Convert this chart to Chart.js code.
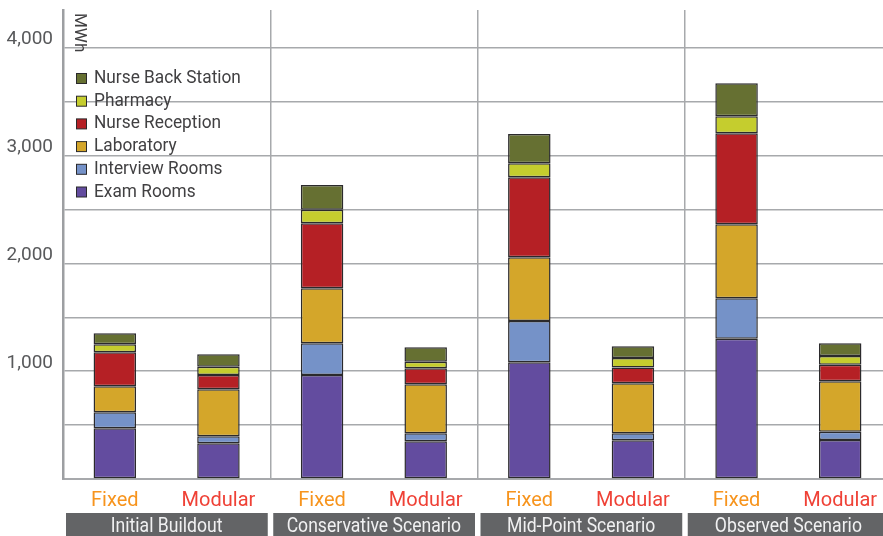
<!DOCTYPE html>
<html>
<head>
<meta charset="utf-8">
<script src="https://cdn.jsdelivr.net/npm/chart.js@4.4.1/dist/chart.umd.min.js"></script>
<style>
  html, body { margin: 0; padding: 0; background: #ffffff; }
  #wrap { width: 883px; height: 536px; overflow: hidden; position: relative; }
  canvas { display: block; }
</style>
</head>
<body>
<div id="wrap"><canvas id="c" width="892" height="536"></canvas></div>
<script>
// ---- data ----
const categories = ['Fixed', 'Modular', 'Fixed', 'Modular', 'Fixed', 'Modular', 'Fixed', 'Modular'];
const groups = ['Initial Buildout', 'Conservative Scenario', 'Mid-Point Scenario', 'Observed Scenario'];
const seriesNames = ['Exam Rooms', 'Interview Rooms', 'Laboratory', 'Nurse Reception', 'Pharmacy', 'Nurse Back Station'];
const examRooms        = [470, 331, 965, 350, 1083, 359, 1301, 362];
const interviewRooms   = [149,  65, 294,  74,  383,  65,  375,  77];
const laboratory       = [241, 436, 510, 454,  591, 464,  687, 467];
const nurseReception   = [315, 133, 603, 149,  742, 147,  844, 154];
const pharmacy         = [ 75,  77, 126,  61,  130,  87,  158,  81];
const nurseBackStation = [102, 115, 229, 134,  271, 109,  306, 118];
const yTicks = [0, 500, 1000, 1500, 2000, 2500, 3000, 3500, 4000];
const yTickLabels = ['', '', '1,000', '', '2,000', '', '3,000', '', '4,000'];
const yMax = 4350;
const unitLabel = 'MWh';

// ---- styles ----
const FONT = "Roboto, 'DejaVu Sans', sans-serif";
const seriesColors = ['#634c9f', '#7592c8', '#d4a62a', '#b52025', '#c5cd2e', '#667032'];
const seriesValues = [examRooms, interviewRooms, laboratory, nurseReception, pharmacy, nurseBackStation];

const datasets = seriesNames.map((name, i) => ({
  label: name,
  data: seriesValues[i],
  backgroundColor: seriesColors[i],
  borderColor: '#2b2a2c',
  borderWidth: 1.5,
  borderSkipped: false,
  barPercentage: 0.41,
  categoryPercentage: 1.0
}));

function squeezedText(ctx, text, x, y, sx) {
  ctx.save();
  ctx.translate(x, y);
  ctx.scale(sx, 1);
  ctx.fillText(text, 0, 0);
  ctx.restore();
}

const overlayPlugin = {
  id: 'overlay',
  afterDraw(chart) {
    const ctx = chart.ctx;
    const x = chart.scales.x;
    const area = chart.chartArea;
    const catW = (area.right - area.left) / categories.length;

    // group label boxes
    ctx.save();
    groups.forEach((g, gi) => {
      const left = x.getPixelForValue(gi * 2) - catW / 2;
      const right = left + 2 * catW;
      ctx.fillStyle = '#636466';
      ctx.fillRect(left + 3, 513, (right - 2.5) - (left + 3), 30);
      ctx.fillStyle = '#f1f1f2';
      ctx.font = '20px ' + FONT;
      ctx.textAlign = 'center';
      ctx.textBaseline = 'alphabetic';
      squeezedText(ctx, g, (left + right) / 2, 532, 0.88);
    });
    ctx.restore();

    // legend (reversed order)
    ctx.save();
    ctx.font = '18px ' + FONT;
    ctx.textBaseline = 'middle';
    ctx.textAlign = 'left';
    const rev = seriesNames.map((n, i) => i).reverse();
    rev.forEach((si, row) => {
      const cy = 78.5 + row * 22.7;
      ctx.fillStyle = seriesColors[si];
      ctx.fillRect(76.5, cy - 5, 10, 10);
      ctx.strokeStyle = '#2b2a2c';
      ctx.lineWidth = 1;
      ctx.strokeRect(76.5, cy - 5, 10, 10);
      ctx.fillStyle = '#414042';
      squeezedText(ctx, seriesNames[si], 94, cy, 0.96);
    });
    ctx.restore();

    // unit label, rotated
    ctx.save();
    ctx.translate(75, 13);
    ctx.rotate(Math.PI / 2);
    ctx.font = '17px ' + FONT;
    ctx.fillStyle = '#414042';
    ctx.textAlign = 'left';
    ctx.textBaseline = 'alphabetic';
    ctx.fillText(unitLabel, 0, 0);
    ctx.restore();
  }
};

new Chart(document.getElementById('c'), {
  type: 'bar',
  data: { labels: categories, datasets },
  options: {
    responsive: false,
    animation: false,
    layout: { padding: { top: 10, left: 0, right: 0, bottom: 0 } },
    plugins: { legend: { display: false }, tooltip: { enabled: false } },
    scales: {
      x: {
        stacked: true,
        afterFit(scale) { scale.height = 57; scale.paddingLeft = 0; scale.paddingRight = 0; },
        grid: {
          offset: true,
          drawTicks: false,
          lineWidth: 1.5,
          color: (c) => (c.index > 0 && c.index < categories.length && c.index % 2 === 0) ? '#a7a9ac' : 'rgba(0,0,0,0)'
        },
        border: { display: true, color: '#a7a9ac', width: 2 },
        ticks: {
          padding: 10,
          font: { family: FONT, size: 20 },
          color: (c) => (c.index % 2 === 0 ? '#f7941d' : '#ef4136'),
          maxRotation: 0,
          autoSkip: false
        }
      },
      y: {
        stacked: true,
        min: 0,
        max: yMax,
        bounds: 'data',
        afterBuildTicks(scale) { scale.ticks = yTicks.map(v => ({ value: v })); },
        afterFit(scale) { scale.width = 63; scale.paddingTop = 0; scale.paddingBottom = 0; },
        grid: { drawTicks: false, lineWidth: 1.5, color: '#a7a9ac' },
        border: { display: true, color: '#9d9fa2', width: 2.5 },
        ticks: {
          autoSkip: false,
          padding: 10,
          labelOffset: -8,
          font: { family: FONT, size: 19 },
          color: '#58595b',
          callback: (v, i) => yTickLabels[i]
        }
      }
    }
  },
  plugins: [overlayPlugin]
});
</script>
</body>
</html>
